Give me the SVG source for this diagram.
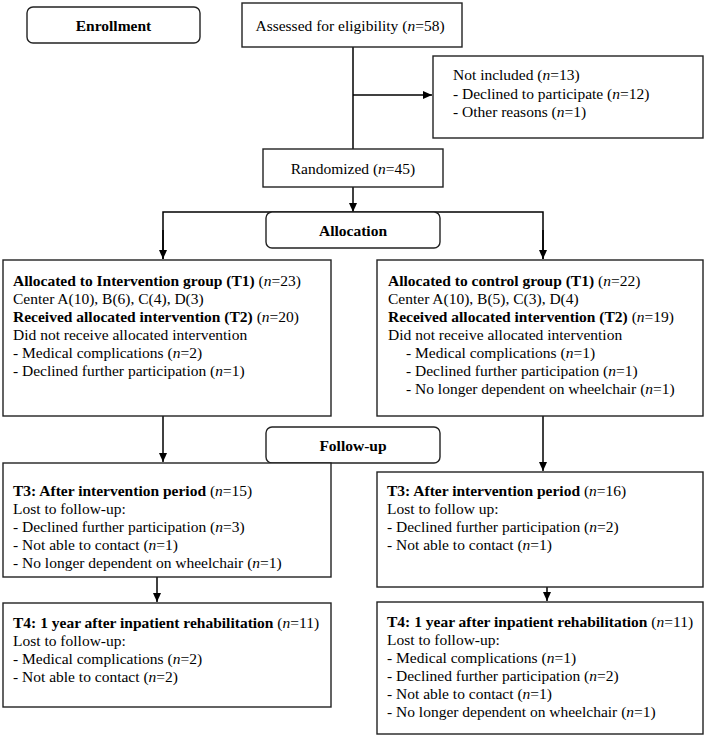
<svg xmlns="http://www.w3.org/2000/svg" width="706" height="741" viewBox="0 0 706 741">
<style>
.box{fill:#fff;stroke:#222;stroke-width:1.4}
.t{font-family:"Liberation Serif","Times New Roman",serif;font-size:15.5px;fill:#000}
.b{font-weight:bold}
.c{text-anchor:middle}
.i{font-style:italic;font-weight:normal}
.n{font-weight:normal}
.ln{fill:none;stroke:#000;stroke-width:1.5}
</style>
<defs>
<marker id="ah" markerWidth="10" markerHeight="10" refX="9" refY="5" orient="auto" markerUnits="userSpaceOnUse">
<path d="M0,1 L9,5 L0,9 Z" fill="#000"/>
</marker>
</defs>
<rect width="706" height="741" fill="#fff"/>
<g id="connectors">
<line class="ln" x1="353" y1="47" x2="353" y2="149"/>
<line class="ln" x1="353" y1="95" x2="432" y2="95" marker-end="url(#ah)"/>
<line class="ln" x1="353" y1="187" x2="353" y2="212" marker-end="url(#ah)"/>
<polyline class="ln" points="163,259 163,212 543,212 543,259"/>
<line class="ln" x1="163" y1="230" x2="163" y2="259" marker-end="url(#ah)"/>
<line class="ln" x1="543" y1="230" x2="543" y2="259" marker-end="url(#ah)"/>
<line class="ln" x1="163" y1="416" x2="163" y2="462" marker-end="url(#ah)"/>
<line class="ln" x1="543" y1="416" x2="543" y2="471" marker-end="url(#ah)"/>
<line class="ln" x1="157" y1="577" x2="157" y2="602" marker-end="url(#ah)"/>
<line class="ln" x1="547" y1="587" x2="547" y2="601" marker-end="url(#ah)"/>
</g>
<g id="enrollment">
<rect class="box" x="27" y="7" width="173" height="36" rx="6"/>
<text class="t b c" x="113.5" y="30.5">Enrollment</text>
</g>
<g id="assessed">
<rect class="box" x="242" y="3" width="220" height="44"/>
<text class="t c" x="350" y="30.5">Assessed for eligibility (<tspan class="i">n</tspan>=58)</text>
</g>
<g id="not-included">
<rect class="box" x="433" y="56" width="270" height="82"/>
<text class="t" x="453" y="80">Not included (<tspan class="i">n</tspan>=13)</text>
<text class="t" x="453" y="99">- Declined to participate (<tspan class="i">n</tspan>=12)</text>
<text class="t" x="453" y="117">- Other reasons (<tspan class="i">n</tspan>=1)</text>
</g>
<g id="randomized">
<rect class="box" x="263" y="149" width="180" height="38"/>
<text class="t c" x="353" y="173.5">Randomized (<tspan class="i">n</tspan>=45)</text>
</g>
<g id="allocation">
<rect class="box" x="266" y="212" width="174" height="36" rx="6"/>
<text class="t b c" x="353" y="235.5">Allocation</text>
</g>
<g id="intervention-t1">
<rect class="box" x="3" y="260" width="328" height="156"/>
<text class="t b" x="13" y="286">Allocated to Intervention group (T1) <tspan class="n">(</tspan><tspan class="i">n</tspan><tspan class="n">=23)</tspan></text>
<text class="t" x="13" y="304">Center A(10), B(6), C(4), D(3)</text>
<text class="t b" x="13" y="322">Received allocated intervention (T2) <tspan class="n">(</tspan><tspan class="i">n</tspan><tspan class="n">=20)</tspan></text>
<text class="t" x="13" y="340">Did not receive allocated intervention</text>
<text class="t" x="13" y="358">- Medical complications (<tspan class="i">n</tspan>=2)</text>
<text class="t" x="13" y="376">- Declined further participation (<tspan class="i">n</tspan>=1)</text>
</g>
<g id="control-t1">
<rect class="box" x="377" y="260" width="326" height="156"/>
<text class="t b" x="388" y="286">Allocated to control group (T1) <tspan class="n">(</tspan><tspan class="i">n</tspan><tspan class="n">=22)</tspan></text>
<text class="t" x="388" y="304">Center A(10), B(5), C(3), D(4)</text>
<text class="t b" x="388" y="322">Received allocated intervention (T2) <tspan class="n">(</tspan><tspan class="i">n</tspan><tspan class="n">=19)</tspan></text>
<text class="t" x="388" y="340">Did not receive allocated intervention</text>
<text class="t" x="406" y="358">- Medical complications (<tspan class="i">n</tspan>=1)</text>
<text class="t" x="406" y="376">- Declined further participation (<tspan class="i">n</tspan>=1)</text>
<text class="t" x="406" y="394">- No longer dependent on wheelchair (<tspan class="i">n</tspan>=1)</text>
</g>
<g id="follow-up">
<rect class="box" x="266" y="427" width="174" height="36" rx="6"/>
<text class="t b c" x="353" y="450.5">Follow-up</text>
</g>
<g id="intervention-t3">
<rect class="box" x="3" y="463" width="328" height="114"/>
<text class="t b" x="13" y="496">T3: After intervention period <tspan class="n">(</tspan><tspan class="i">n</tspan><tspan class="n">=15)</tspan></text>
<text class="t" x="13" y="514">Lost to follow-up:</text>
<text class="t" x="13" y="532">- Declined further participation (<tspan class="i">n</tspan>=3)</text>
<text class="t" x="13" y="550">- Not able to contact (<tspan class="i">n</tspan>=1)</text>
<text class="t" x="13" y="568">- No longer dependent on wheelchair (<tspan class="i">n</tspan>=1)</text>
</g>
<g id="control-t3">
<rect class="box" x="377" y="472" width="326" height="115"/>
<text class="t b" x="387" y="496">T3: After intervention period <tspan class="n">(</tspan><tspan class="i">n</tspan><tspan class="n">=16)</tspan></text>
<text class="t" x="387" y="514">Lost to follow up:</text>
<text class="t" x="387" y="532">- Declined further participation (<tspan class="i">n</tspan>=2)</text>
<text class="t" x="387" y="550">- Not able to contact (<tspan class="i">n</tspan>=1)</text>
</g>
<g id="intervention-t4">
<rect class="box" x="3" y="603" width="328" height="104"/>
<text class="t b" x="13" y="628">T4: 1 year after inpatient rehabilitation <tspan class="n">(</tspan><tspan class="i">n</tspan><tspan class="n">=11)</tspan></text>
<text class="t" x="13" y="646">Lost to follow-up:</text>
<text class="t" x="13" y="664">- Medical complications (<tspan class="i">n</tspan>=2)</text>
<text class="t" x="13" y="682">- Not able to contact (<tspan class="i">n</tspan>=2)</text>
</g>
<g id="control-t4">
<rect class="box" x="377" y="602" width="326" height="132"/>
<text class="t b" x="387" y="627">T4: 1 year after inpatient rehabilitation <tspan class="n">(</tspan><tspan class="i">n</tspan><tspan class="n">=11)</tspan></text>
<text class="t" x="387" y="645">Lost to follow-up:</text>
<text class="t" x="387" y="663">- Medical complications (<tspan class="i">n</tspan>=1)</text>
<text class="t" x="387" y="681">- Declined further participation (<tspan class="i">n</tspan>=2)</text>
<text class="t" x="387" y="699">- Not able to contact (<tspan class="i">n</tspan>=1)</text>
<text class="t" x="387" y="717">- No longer dependent on wheelchair (<tspan class="i">n</tspan>=1)</text>
</g>
</svg>
